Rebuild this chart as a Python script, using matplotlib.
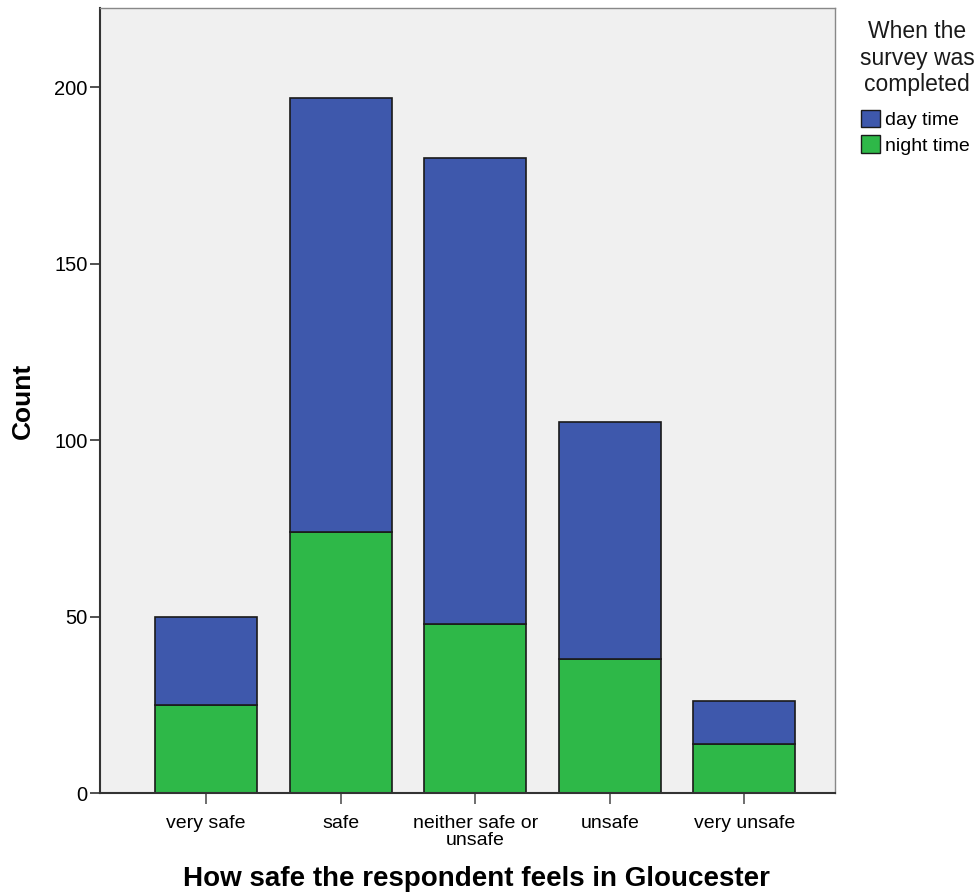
import matplotlib
matplotlib.use("Agg")
import matplotlib.pyplot as plt
from matplotlib.patches import Patch

categories = ["very safe", "safe", "neither safe or\nunsafe", "unsafe", "very unsafe"]
night_time = [25, 74, 48, 38, 14]
day_time = [25, 123, 132, 67, 12]
series_labels = ["day time", "night time"]
legend_title = "When the\nsurvey was\ncompleted"

plt.rcParams['font.family'] = ['Liberation Sans', 'DejaVu Sans']

W, H = 977, 896
fig = plt.figure(figsize=(W/100, H/100), dpi=100)
ax = fig.add_axes([100/W, (H-793)/H, 735/W, 785/H])
ax.set_facecolor("#F0F0F0")

blue = "#3E58AC"
green = "#2EB848"
x = list(range(len(categories)))
ax.bar(x, night_time, width=0.76, color=green, edgecolor="#1a1a1a", linewidth=1.2, zorder=2)
ax.bar(x, day_time, bottom=night_time, width=0.76, color=blue, edgecolor="#1a1a1a", linewidth=1.2, zorder=2)

ax.set_xlim(-0.79, 4.675)
ax.set_ylim(0, 222.4)
ax.set_yticks([0, 50, 100, 150, 200])
ax.set_xticks(x)
ax.set_xticklabels(categories, fontsize=14, linespacing=0.95)
ax.tick_params(axis='y', labelsize=14.5, length=7, width=1.2, color="#333333", pad=2)
ax.tick_params(axis='x', length=8, width=1.2, color="#555555", pad=8)
for s in ["top", "right"]:
    ax.spines[s].set_color("#888888")
    ax.spines[s].set_linewidth(1)
for s in ["left", "bottom"]:
    ax.spines[s].set_color("#333333")
    ax.spines[s].set_linewidth(1.5)

ax.set_ylabel("Count", fontsize=19, fontweight="bold", labelpad=14)
fig.text(476/W, 1 - 879/H, "How safe the respondent feels in Gloucester",
         fontsize=20, fontweight="bold", ha="center", va="center")

fig.text(917/W, 1 - 20/H, legend_title, fontsize=16.5, ha="center", va="top",
         multialignment="center", linespacing=1.2, color="#1a1a1a")

handles = [Patch(facecolor=blue, edgecolor="#1a1a1a"), Patch(facecolor=green, edgecolor="#1a1a1a")]
leg = fig.legend(handles, series_labels,
                 loc="upper left", bbox_to_anchor=(861/W, 1 - 110/H), frameon=False,
                 fontsize=14, handlelength=1.0, handleheight=1.0,
                 handletextpad=0.25, labelspacing=0.3, borderpad=0, borderaxespad=0)

fig.savefig("out.png", dpi=100)
